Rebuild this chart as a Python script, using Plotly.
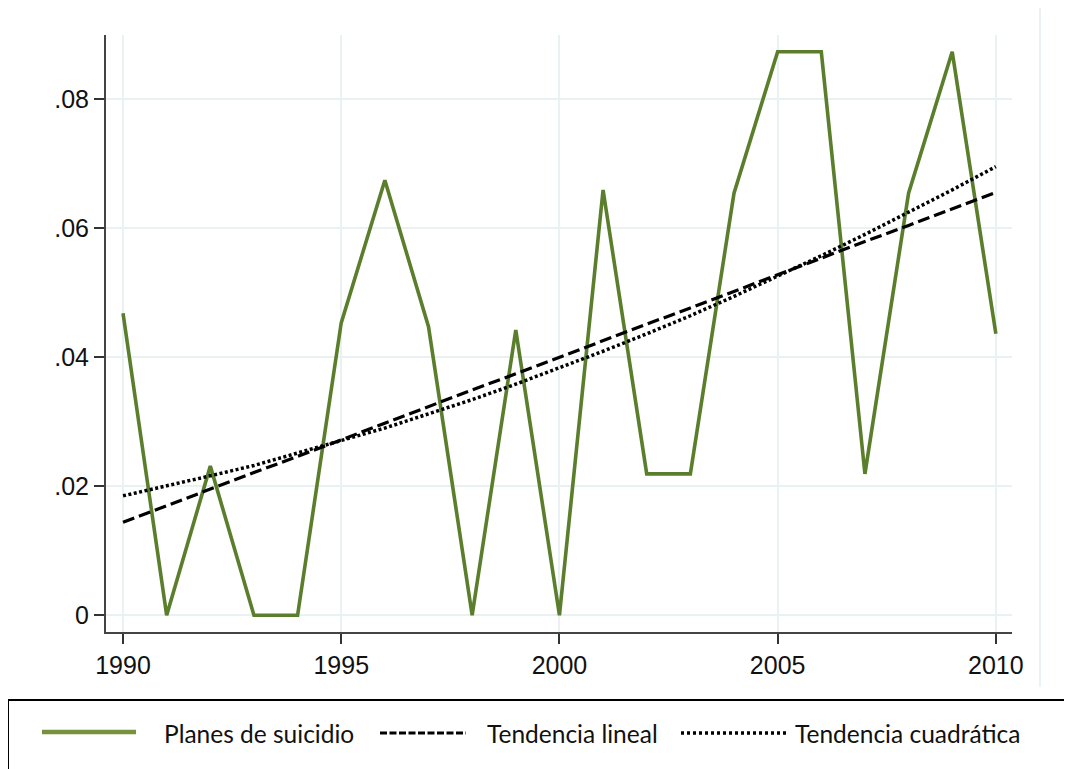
import plotly.graph_objects as go

years = list(range(1990, 2011))
planes = [0.0468, 0.0, 0.0231, 0.0, 0.0, 0.0453, 0.0674, 0.0447, 0.0, 0.0442, 0.0,
          0.0659, 0.0219, 0.0219, 0.0654, 0.0873, 0.0873, 0.0219, 0.0654, 0.0873, 0.0436]
lineal = [0.0144, 0.0170, 0.0195, 0.0221, 0.0246, 0.0272, 0.0297, 0.0323, 0.0349, 0.0374, 0.0400,
          0.0425, 0.0451, 0.0476, 0.0502, 0.0527, 0.0553, 0.0579, 0.0604, 0.0630, 0.0655]
cuadratica = [0.0185, 0.0200, 0.0216, 0.0232, 0.0251, 0.0270, 0.0290, 0.0312, 0.0334, 0.0358, 0.0383,
              0.0409, 0.0436, 0.0464, 0.0494, 0.0525, 0.0557, 0.0590, 0.0624, 0.0659, 0.0695]

x_ticks = [1990, 1995, 2000, 2005, 2010]
y_ticks = [0, 0.02, 0.04, 0.06, 0.08]
y_ticktext = ["0", ".02", ".04", ".06", ".08"]
legend_labels = ["Planes de suicidio", "Tendencia lineal", "Tendencia cuadrática"]

GREEN = "#5b7e2d"
LEG_GREEN = "#76923c"

fig = go.Figure()
fig.add_trace(go.Scatter(x=years, y=planes, mode="lines",
                         line=dict(color=GREEN, width=3.6), name=legend_labels[0]))
fig.add_trace(go.Scatter(x=years, y=lineal, mode="lines",
                         line=dict(color="black", width=3.2, dash="12px,5px"), name=legend_labels[1]))
fig.add_trace(go.Scatter(x=years, y=cuadratica, mode="lines",
                         line=dict(color="black", width=3.5, dash="3px,2.5px"), name=legend_labels[2]))

OFF = 8  # page body margin
W, H = 1072, 769
L, R, T, B = 106 - OFF, 1012 - OFF, 35 - OFF, 632 - OFF


def px(xp):
    return (xp - OFF - L) / (R - L)


def py(yp):
    return (B - (yp - OFF)) / (B - T)


shapes = [
    dict(type="line", xref="paper", yref="paper", x0=px(1040), x1=px(1040), y0=py(8), y1=py(687),
         line=dict(color="#e6eef0", width=1.5)),
    dict(type="rect", xref="paper", yref="paper", x0=px(8), x1=px(1100), y0=py(700), y1=py(800),
         line=dict(color="black", width=2), fillcolor="rgba(0,0,0,0)"),
    dict(type="line", xref="paper", yref="paper", x0=px(42), x1=px(136), y0=py(732), y1=py(732),
         line=dict(color=LEG_GREEN, width=4.5)),
    dict(type="line", xref="paper", yref="paper", x0=px(380), x1=px(466), y0=py(733), y1=py(733),
         line=dict(color="black", width=3, dash="7px,2.5px")),
    dict(type="line", xref="paper", yref="paper", x0=px(681), x1=px(786), y0=py(733), y1=py(733),
         line=dict(color="black", width=3.5, dash="3px,3px")),
]

annotations = []
for text, xs in zip(legend_labels, [162, 485, 793]):
    annotations.append(dict(text=text, xref="paper", yref="paper", x=px(xs), y=py(733),
                            xanchor="left", yanchor="middle", showarrow=False,
                            font=dict(family="Lato", size=24.5, color="#111")))

fig.update_layout(
    width=W, height=H,
    margin=dict(l=L, r=W - R, t=T, b=H - B),
    paper_bgcolor="white", plot_bgcolor="white",
    showlegend=False,
    shapes=shapes, annotations=annotations,
    font=dict(family="Liberation Sans", size=25, color="#111"),
)
fig.update_xaxes(range=[1989.61, 2010.37], tickvals=x_ticks, ticks="outside", ticklen=10,
                 tickcolor="#333", tickwidth=1.5, showline=True, linecolor="#444", linewidth=2,
                 showgrid=True, gridcolor="#eaf1f3", gridwidth=2, zeroline=False)
fig.update_yaxes(range=[-0.0026, 0.0899], tickvals=y_ticks, ticktext=y_ticktext, ticks="outside",
                 ticklen=10, tickcolor="#333", tickwidth=1.5, showline=True, linecolor="#444",
                 linewidth=2, showgrid=True, gridcolor="#eaf1f3", gridwidth=2, zeroline=False)

fig.write_html("out.html")
